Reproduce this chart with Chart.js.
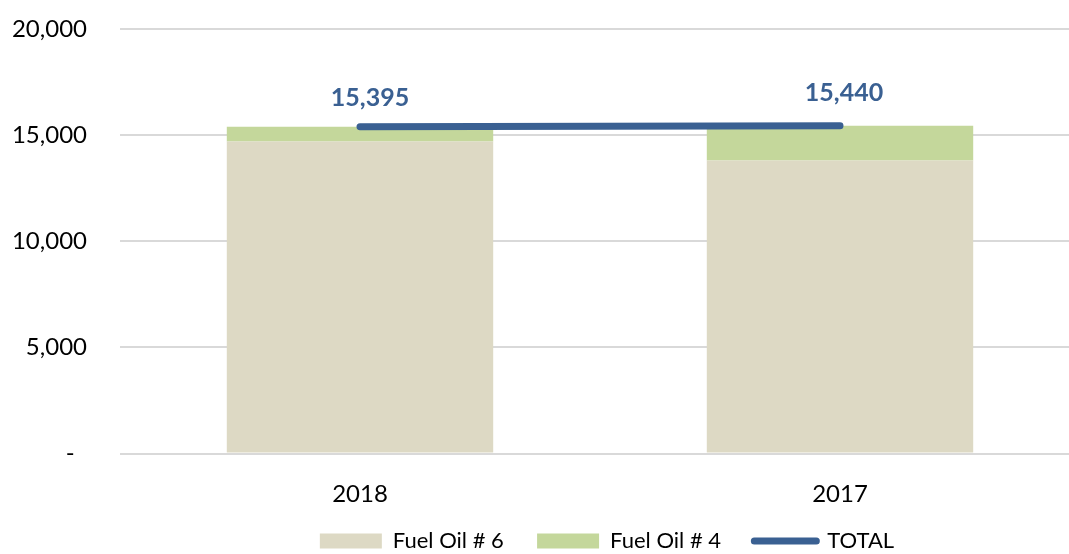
<!DOCTYPE html>
<html>
<head>
<meta charset="utf-8">
<script src="https://cdn.jsdelivr.net/npm/chart.js@4"></script>
<style>
  html, body { margin: 0; padding: 0; background: #fff; overflow: hidden; }
  #wrap { width: 1069px; height: 554px; overflow: hidden; }
</style>
</head>
<body>
<div id="wrap"><canvas id="chart" width="1080" height="554"></canvas></div>
<script>
// data
const years = ["2018", "2017"];
const fuelOil6 = [14700, 13810];
const fuelOil4 = [695, 1630];
const totals = [15395, 15440];
const yTicks = [0, 5000, 10000, 15000, 20000];
const yTickLabels = ["-  ", "5,000", "10,000", "15,000", "20,000"];

const FONT = "Lato, 'Open Sans', sans-serif";
const TAN = "#DDD9C4";
const GREEN = "#C4D79B";
const BLUE = "#3A6092";

// total labels above the line points
const totalLabels = {
    id: "totalLabels",
    afterDatasetsDraw(chart) {
        const ctx = chart.ctx;
        const meta = chart.getDatasetMeta(2);
        const offs = [[10, -29], [4, -33]];
        ctx.save();
        ctx.font = "bold 25px " + FONT;
        ctx.fillStyle = BLUE;
        ctx.textAlign = "center";
        ctx.textBaseline = "middle";
        meta.data.forEach((pt, i) => {
            ctx.fillText(totals[i].toLocaleString("en-US"), pt.x + offs[i][0], pt.y + offs[i][1]);
        });
        ctx.restore();
    }
};

// nudge the legend a little to the right, like the original
const legendShift = {
    id: "legendShift",
    afterLayout(chart) {
        chart.legend.left += 7;
        chart.legend.right += 7;
    }
};

new Chart(document.getElementById("chart"), {
    type: "bar",
    data: {
        labels: years,
        datasets: [
            { label: "Fuel Oil # 6", data: fuelOil6, backgroundColor: TAN, stack: "fuel", order: 1,
              categoryPercentage: 0.555, barPercentage: 1 },
            { label: "Fuel Oil # 4", data: fuelOil4, backgroundColor: GREEN, stack: "fuel", order: 1,
              categoryPercentage: 0.555, barPercentage: 1 },
            { label: "TOTAL", type: "line", data: totals, borderColor: BLUE, backgroundColor: BLUE,
              borderWidth: 7, borderCapStyle: "round", pointRadius: 0, pointHoverRadius: 0,
              stack: "total", order: 0, fill: false, tension: 0 }
        ]
    },
    options: {
        responsive: false,
        animation: false,
        layout: { padding: { top: 29, right: 0, bottom: -8, left: 0 } },
        plugins: {
            tooltip: { enabled: false },
            legend: {
                position: "bottom",
                fullSize: false,
                labels: {
                    font: { family: FONT, size: 22 },
                    color: "#000",
                    usePointStyle: true,
                    boxWidth: 62,
                    boxHeight: 15,
                    pointStyleWidth: 62,
                    padding: 22,
                    generateLabels(chart) {
                        return [
                            { text: "Fuel Oil # 6  ", fillStyle: TAN, strokeStyle: TAN, lineWidth: 0, pointStyle: "rect", datasetIndex: 0, fontColor: "#000" },
                            { text: "Fuel Oil # 4  ", fillStyle: GREEN, strokeStyle: GREEN, lineWidth: 0, pointStyle: "rect", datasetIndex: 1, fontColor: "#000" },
                            { text: "TOTAL", fillStyle: BLUE, strokeStyle: BLUE, lineWidth: 7, lineCap: "round", pointStyle: "line", datasetIndex: 2, fontColor: "#000" }
                        ];
                    }
                }
            }
        },
        scales: {
            x: {
                grid: { display: false, drawTicks: false },
                border: { display: false },
                ticks: { font: { family: FONT, size: 24 }, color: "#000", padding: 26 },
                afterFit(scale) { scale.height = 54.5; }
            },
            y: {
                stacked: true,
                min: 0,
                max: 20000,
                afterBuildTicks(scale) { scale.ticks = yTicks.map(v => ({ value: v })); },
                afterFit(scale) {
                    scale.width = 120;
                    scale.paddingTop = 0;
                    scale.paddingBottom = 0;
                },
                grid: { color: "#D9D9D9", lineWidth: 2, drawTicks: false },
                border: { display: false },
                ticks: {
                    font: { family: FONT, size: 24 },
                    color: "#000",
                    padding: 33,
                    callback: (v) => yTickLabels[yTicks.indexOf(v)]
                }
            }
        }
    },
    plugins: [totalLabels, legendShift]
});
</script>
</body>
</html>
